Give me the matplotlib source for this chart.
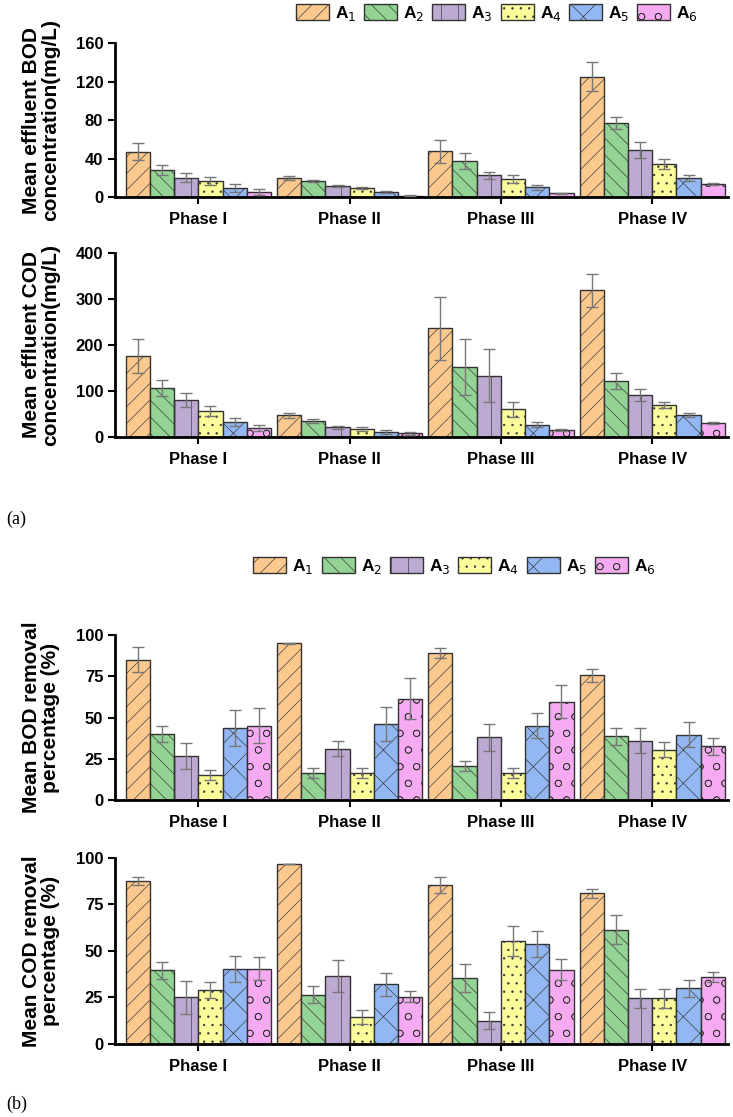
import matplotlib
matplotlib.use("Agg")
import matplotlib.pyplot as plt
import numpy as np
from matplotlib.patches import Patch

plt.rcParams['hatch.linewidth'] = 0.45
plt.rcParams['hatch.color'] = '#555555'

phases = ["Phase I", "Phase II", "Phase III", "Phase IV"]
series = ["A$_1$", "A$_2$", "A$_3$", "A$_4$", "A$_5$", "A$_6$"]
colors = ["#FBC98E", "#93D394", "#BDAAD2", "#FDFD9C", "#93B7F2", "#F5AAF2"]
hatches = ["//", "\\\\", "|", "..", "x", "o"]

# rows = series A1..A6, columns = phases I..IV
bod_conc = [[47, 20, 47.5, 125], [28, 17, 37.5, 77], [20, 11.5, 22.5, 49],
            [17, 9.5, 19, 34], [9.5, 5, 10, 20], [5, 1.5, 4, 13.5]]
bod_conc_err = [[9, 2, 12, 15], [5, 1, 8.5, 6.5], [4.5, 0.8, 4, 8],
                [4, 1, 4, 5], [4, 1, 2.5, 3], [3, 0.5, 0.5, 1.5]]
cod_conc = [[176, 47, 236, 319], [106, 34, 153, 122], [80, 21, 133, 92],
            [57, 18, 60, 69], [33, 11, 27, 48], [19, 8, 15, 31]]
cod_conc_err = [[36, 5, 69, 36], [18, 4, 61, 17], [15, 3, 58, 13],
                [11, 4, 17, 6], [9, 4, 6, 4], [6, 3, 3, 2]]
bod_rem = [[85, 95, 89, 75.5], [40, 16.5, 20.5, 38.5], [26.5, 31, 38, 36],
           [15, 16.5, 16.5, 30.5], [43.5, 46, 45, 39.5], [45, 61.5, 59.5, 32.5]]
bod_rem_err = [[7.5, 0.3, 3, 4], [5, 3, 3, 5], [8, 4.5, 8, 7.5],
               [3, 3, 3, 4.5], [11, 10.5, 7.5, 7.5], [10.5, 12.5, 10, 5]]
cod_rem = [[87.5, 97, 85.5, 81], [39.5, 26.5, 35.5, 61.5], [25, 36.5, 12.5, 24.5],
           [29, 14.5, 55.5, 24.5], [40.5, 32, 53.5, 30], [40.5, 25.5, 40, 36]]
cod_rem_err = [[2, 0, 4.5, 2.5], [4.5, 4.5, 7.5, 8], [9, 8.5, 4.5, 5],
               [4.5, 4, 8, 5], [7, 6, 7, 4.5], [6, 3, 5.5, 2.5]]

panels = [
    (bod_conc, bod_conc_err, (0, 160), [0, 40, 80, 120, 160],
     "Mean effluent BOD\nconcentration(mg/L)", [0.157, 0.8236, 0.836, 0.1379]),
    (cod_conc, cod_conc_err, (0, 400), [0, 100, 200, 300, 400],
     "Mean effluent COD\nconcentration(mg/L)", [0.157, 0.6088, 0.836, 0.1647]),
    (bod_rem, bod_rem_err, (0, 100), [0, 25, 50, 75, 100],
     "Mean BOD removal\npercentage (%)", [0.157, 0.2838, 0.836, 0.1477]),
    (cod_rem, cod_rem_err, (0, 100), [0, 25, 50, 75, 100],
     "Mean COD removal\npercentage (%)", [0.157, 0.0654, 0.836, 0.1665]),
]

fig = plt.figure(figsize=(7.33, 11.17), dpi=100)
x = np.arange(1, len(phases) + 1)
bw = 0.16
tickfont = dict(family=['Liberation Sans', 'DejaVu Sans'], weight='bold', size=12)

for vals, errs, ylim, yticks, ylabel, rect in panels:
    ax = fig.add_axes(rect)
    for i in range(len(series)):
        pos = x + (i - 2.5) * bw
        ax.bar(pos, vals[i], width=bw, color=colors[i], edgecolor='#333333',
               linewidth=1.0, hatch=hatches[i], zorder=2)
        ax.errorbar(pos, vals[i], yerr=errs[i], fmt='none', ecolor='#777777',
                    elinewidth=1.0, capsize=4, capthick=1.0, zorder=3)
    ax.set_xlim(0.45, 4.5)
    ax.set_ylim(*ylim)
    ax.set_yticks(yticks)
    ax.set_xticks(x)
    ax.set_xticklabels(phases, fontdict=tickfont)
    ax.set_yticklabels([str(t) for t in yticks], fontdict=tickfont)
    for s in ['top', 'right']:
        ax.spines[s].set_visible(False)
    for s in ['left', 'bottom']:
        ax.spines[s].set_linewidth(2)
    ax.tick_params(axis='both', width=1.5, length=5, direction='out')
    ax.tick_params(axis='x', pad=6)
    ax.set_ylabel(ylabel, fontsize=15, fontweight='bold',
                  family=['Liberation Sans', 'DejaVu Sans'], labelpad=11,
                  linespacing=1.0)

handles = [Patch(facecolor=colors[i], edgecolor='#333333', hatch=hatches[i],
                 label=series[i]) for i in range(len(series))]
legprops = dict(family=['Liberation Sans', 'DejaVu Sans'], weight='bold', size=12.5)
for yc, xc in [(0.988, 0.678), (0.493, 0.62)]:
    fig.legend(handles=handles, loc='center', bbox_to_anchor=(xc, yc), ncol=6,
               frameon=False, prop=legprops, handlelength=1.9, handleheight=1.1,
               handletextpad=0.35, columnspacing=0.45, borderaxespad=0)

fig.text(0.008, 0.535, "(a)", fontsize=13, family=['Liberation Serif', 'DejaVu Serif'],
         va='center', ha='left')
fig.text(0.008, 0.011, "(b)", fontsize=13, family=['Liberation Serif', 'DejaVu Serif'],
         va='center', ha='left')

fig.savefig("out.png", dpi=100)
